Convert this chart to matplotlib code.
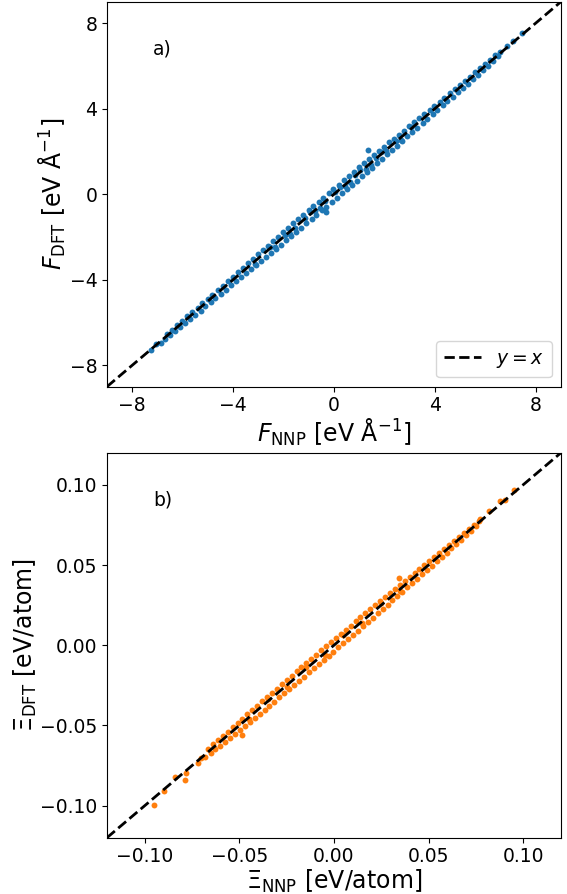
import matplotlib
matplotlib.use("Agg")
import matplotlib.pyplot as plt

# Forces: NNP prediction vs DFT reference (eV/Å)
f_nnp = [-7.25, -7.05, -6.85,
         -6.70, -6.61, -6.49, -6.42, -6.30, -6.21, -6.09, -6.02, -5.90, -5.81,
         -5.69, -5.62, -5.50, -5.41, -5.29, -5.22, -5.10, -5.01, -4.89, -4.82,
         -4.70, -4.61, -4.49, -4.42, -4.30, -4.21, -4.09, -4.02, -3.90, -3.81,
         -3.69, -3.62, -3.50, -3.41, -3.29, -3.22, -3.10, -3.01, -2.89, -2.82,
         -2.70, -2.61, -2.49, -2.42, -2.30, -2.21, -2.09, -2.02, -1.90, -1.81,
         -1.69, -1.62, -1.50, -1.41, -1.29, -1.22, -1.10, -1.01, -0.89, -0.82,
         -0.70, -0.61, -0.49, -0.42, -0.30, -0.21, -0.09, -0.02, 0.10, 0.19,
         0.31, 0.38, 0.50, 0.59, 0.71, 0.78, 0.90, 0.99, 1.11, 1.18,
         1.30, 1.39, 1.51, 1.58, 1.70, 1.79, 1.91, 1.98, 2.10, 2.19,
         2.31, 2.38, 2.50, 2.59, 2.71, 2.78, 2.90, 2.99, 3.11, 3.18,
         3.30, 3.39, 3.51, 3.58, 3.70, 3.79, 3.91, 3.98, 4.10, 4.19,
         4.31, 4.38, 4.50, 4.59, 4.71, 4.78, 4.90, 4.99, 5.11, 5.18,
         5.30, 5.39, 5.51, 5.58, 5.70, 5.79, 5.91, 5.98, 6.10, 6.19,
         6.31, 6.40, 6.52, 6.60, 6.85, 7.10, 7.45,
         -2.35, -1.95, -1.55, -1.15, -0.75, -0.35, 0.05, 0.45, 0.85, 1.25,
         1.65, 2.05, 2.45, -3.15, -2.55, -1.75, -0.95, -0.55, 0.25, 0.65,
         1.05, 1.45, 1.85, 2.65, 3.05, 1.33, -0.30]
f_dft = [-7.30, -7.00, -6.95,
         -6.78, -6.52, -6.60, -6.33, -6.41, -6.10, -6.22, -5.93, -6.03, -5.68,
         -5.82, -5.50, -5.64, -5.30, -5.45, -5.08, -5.25, -4.88, -5.04, -4.70,
         -4.86, -4.47, -4.66, -4.28, -4.47, -4.06, -4.27, -3.86, -4.08, -3.64,
         -3.88, -3.45, -3.70, -3.24, -3.51, -3.03, -3.32, -2.82, -3.12, -2.61,
         -2.94, -2.40, -2.74, -2.20, -2.56, -1.98, -2.36, -1.78, -2.15, -1.57,
         -1.95, -1.37, -1.76, -1.16, -1.56, -0.97, -1.36, -0.76, -1.16, -0.57,
         -0.97, -0.36, -0.76, -0.16, -0.58, 0.04, -0.36, 0.24, -0.17, 0.45,
         0.04, 0.64, 0.23, 0.85, 0.43, 1.04, 0.63, 1.25, 0.84, 1.44,
         1.04, 1.64, 1.24, 1.83, 1.45, 2.04, 1.65, 2.22, 1.86, 2.42,
         2.06, 2.60, 2.27, 2.79, 2.49, 2.97, 2.70, 3.17, 2.91, 3.36,
         3.11, 3.55, 3.32, 3.74, 3.52, 3.94, 3.73, 4.13, 3.94, 4.33,
         4.15, 4.52, 4.35, 4.72, 4.56, 4.91, 4.76, 5.11, 4.97, 5.30,
         5.17, 5.50, 5.38, 5.69, 5.58, 5.89, 5.79, 6.08, 6.00, 6.28,
         6.21, 6.49, 6.44, 6.66, 6.92, 7.15, 7.52,
         -2.45, -1.90, -1.60, -1.10, -0.80, -0.30, 0.10, 0.40, 0.90, 1.20,
         1.70, 2.00, 2.50, -3.25, -2.45, -1.85, -0.85, -0.65, 0.35, 0.55,
         1.15, 1.35, 1.95, 2.55, 3.15, 2.05, -0.82]

# Stress: NNP prediction vs DFT reference (eV/atom)
xi_nnp = [-0.0951, -0.0896, -0.0843, -0.0787, -0.0782, -0.0719, -0.0703,
          -0.0680, -0.0665, -0.0652, -0.0640, -0.0627, -0.0614, -0.0601, -0.0588,
          -0.0575, -0.0562, -0.0549, -0.0536, -0.0523, -0.0510, -0.0497, -0.0484,
          -0.0471, -0.0458, -0.0445, -0.0432, -0.0419, -0.0406, -0.0393, -0.0380,
          -0.0367, -0.0354, -0.0341, -0.0328, -0.0315, -0.0302, -0.0289, -0.0276,
          -0.0263, -0.0250, -0.0237, -0.0224, -0.0211, -0.0198, -0.0185, -0.0172,
          -0.0159, -0.0146, -0.0133, -0.0120, -0.0107, -0.0094, -0.0081, -0.0068,
          -0.0055, -0.0042, -0.0029, -0.0016, -0.0003, 0.0010, 0.0023, 0.0036,
          0.0049, 0.0062, 0.0075, 0.0088, 0.0101, 0.0114, 0.0127, 0.0140,
          0.0153, 0.0166, 0.0179, 0.0192, 0.0205, 0.0218, 0.0231, 0.0244,
          0.0257, 0.0270, 0.0283, 0.0296, 0.0309, 0.0322, 0.0335, 0.0348,
          0.0361, 0.0374, 0.0387, 0.0400, 0.0413, 0.0426, 0.0439, 0.0452,
          0.0465, 0.0478, 0.0491, 0.0504, 0.0517, 0.0530, 0.0543, 0.0556,
          0.0569, 0.0582, 0.0595, 0.0608, 0.0621, 0.0634, 0.0647, 0.0660,
          0.0673, 0.0686, 0.0699, 0.0712, 0.0725, 0.0738, 0.0751, 0.0764,
          0.0772, 0.0818, 0.0875, 0.0904, 0.0951, 0.0342, -0.0487,
          -0.0450, -0.0350, -0.0250, -0.0150, -0.0050, 0.0050, 0.0150, 0.0250,
          0.0350]
xi_dft = [-0.0999, -0.0911, -0.0822, -0.0843, -0.0797, -0.0735, -0.0704,
          -0.0700, -0.0645, -0.0672, -0.0618, -0.0650, -0.0592, -0.0626, -0.0566,
          -0.0601, -0.0539, -0.0577, -0.0512, -0.0552, -0.0485, -0.0527, -0.0458,
          -0.0502, -0.0431, -0.0478, -0.0404, -0.0453, -0.0377, -0.0428, -0.0350,
          -0.0403, -0.0323, -0.0378, -0.0296, -0.0352, -0.0270, -0.0326, -0.0243,
          -0.0300, -0.0216, -0.0274, -0.0190, -0.0248, -0.0163, -0.0222, -0.0137,
          -0.0196, -0.0111, -0.0170, -0.0085, -0.0144, -0.0059, -0.0118, -0.0033,
          -0.0092, -0.0007, -0.0066, 0.0019, -0.0040, 0.0045, -0.0014, 0.0071,
          0.0012, 0.0097, 0.0038, 0.0122, 0.0064, 0.0148, 0.0091, 0.0173,
          0.0117, 0.0199, 0.0144, 0.0224, 0.0171, 0.0250, 0.0198, 0.0275,
          0.0225, 0.0301, 0.0252, 0.0326, 0.0279, 0.0351, 0.0306, 0.0377,
          0.0333, 0.0402, 0.0360, 0.0427, 0.0387, 0.0452, 0.0414, 0.0477,
          0.0441, 0.0502, 0.0468, 0.0527, 0.0495, 0.0552, 0.0522, 0.0576,
          0.0550, 0.0601, 0.0577, 0.0625, 0.0604, 0.0650, 0.0631, 0.0674,
          0.0658, 0.0699, 0.0686, 0.0724, 0.0713, 0.0749, 0.0741, 0.0774,
          0.0785, 0.0834, 0.0896, 0.0907, 0.0969, 0.0419, -0.0558,
          -0.0462, -0.0338, -0.0262, -0.0138, -0.0062, 0.0062, 0.0138, 0.0262,
          0.0338]

f_ticks = [-8, -4, 0, 4, 8]
xi_ticks = [-0.10, -0.05, 0.00, 0.05, 0.10]
f_lim = 9
xi_lim = 0.12

fig = plt.figure(figsize=(5.67, 8.94), dpi=100)
ax1 = fig.add_axes([0.1887, 0.5675, 0.8007, 0.4306])
ax2 = fig.add_axes([0.1887, 0.0630, 0.8007, 0.4306])

# a) forces
ax1.scatter(f_nnp, f_dft, s=18, color="C0", linewidths=0)
ax1.plot([-f_lim, f_lim], [-f_lim, f_lim], "k--", lw=2, label="$y=x$")
ax1.set_xlim(-f_lim, f_lim)
ax1.set_ylim(-f_lim, f_lim)
ax1.set_xticks(f_ticks)
ax1.set_yticks(f_ticks)
ax1.set_xlabel(r"$F_{\mathrm{NNP}}$ [eV Å$^{-1}$]", fontsize=17, labelpad=1)
ax1.set_ylabel(r"$F_{\mathrm{DFT}}$ [eV Å$^{-1}$]", fontsize=17, labelpad=1)
ax1.tick_params(labelsize=13.5)
ax1.legend(loc="lower right", fontsize=13.5)
ax1.text(0.101, 0.864, "a)", transform=ax1.transAxes, fontsize=13.5)

# b) stresses
ax2.scatter(xi_nnp, xi_dft, s=18, color="C1", linewidths=0)
ax2.plot([-xi_lim, xi_lim], [-xi_lim, xi_lim], "k--", lw=2)
ax2.set_xlim(-xi_lim, xi_lim)
ax2.set_ylim(-xi_lim, xi_lim)
ax2.set_xticks(xi_ticks)
ax2.set_yticks(xi_ticks)
ax2.set_xlabel(r"$\Xi_{\mathrm{NNP}}$ [eV/atom]", fontsize=17, labelpad=1)
ax2.set_ylabel(r"$\Xi_{\mathrm{DFT}}$ [eV/atom]", fontsize=17, labelpad=1)
ax2.tick_params(labelsize=13.5)
ax2.text(0.101, 0.864, "b)", transform=ax2.transAxes, fontsize=13.5)

fig.savefig("out.png", dpi=100)
